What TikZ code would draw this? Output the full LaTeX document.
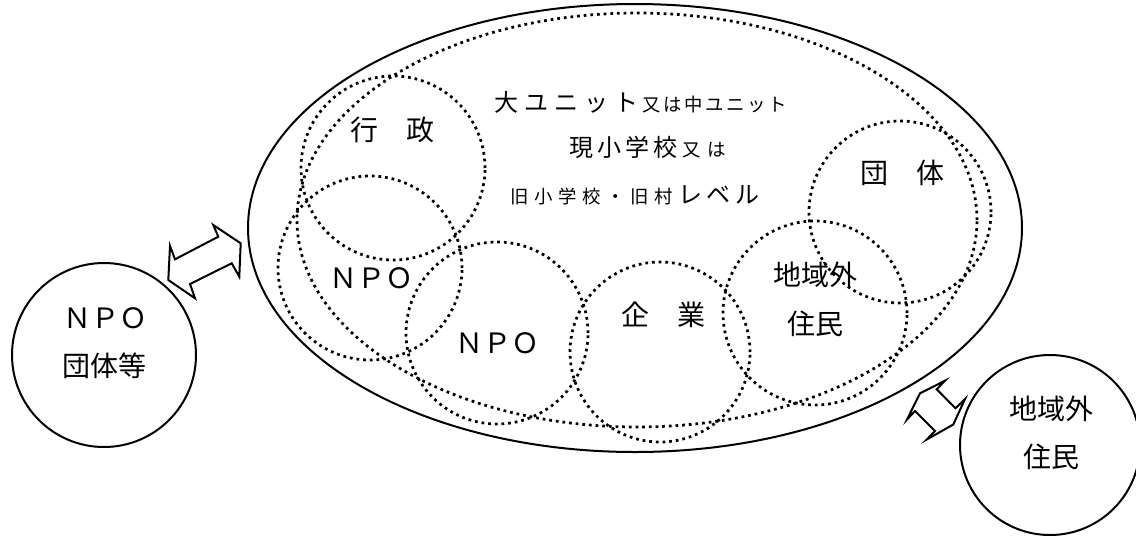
\documentclass[tikz,border=0pt]{standalone}
\usepackage{fontspec}
\newfontfamily\jp{Noto Sans CJK JP}
\usetikzlibrary{shapes.geometric}
\newdimen\pxu \pxu=0.75pt
\newdimen\pitchw
\newcommand\pitched[2]{\pitchw=#1\relax\pitchloop#2\relax}
\def\pitchloop#1{\ifx#1\relax\else\makebox[\pitchw][c]{#1}\expandafter\pitchloop\fi}
\newcommand\Lg[2]{{\jp\fontsize{18}{20}\selectfont\pitched{#1}{#2}}}
\newcommand\Sm[2]{{\jp\fontsize{13.8}{15}\selectfont\pitched{#1}{#2}}}
\begin{document}
\begin{tikzpicture}[x=0.75pt,y=-0.75pt,
  solidline/.style={draw=black, line width=1.5pt},
  dotline/.style={draw=black, line width=2.05pt, dash pattern=on 2.05pt off 2.95pt},
  dotcirc/.style={dotline, circle, inner sep=0pt},
  lbl/.style={inner sep=0pt, font=\jp\fontsize{21}{24}\selectfont},
  toptext/.style={inner sep=0pt, anchor=base west},
  blockarrow/.style={draw=black, fill=white, line width=1.5pt, line join=miter}
]
\useasboundingbox (0,0) rectangle (1136,537);
\clip (0,0) rectangle (1136,537);

% outer solid ellipse and dotted ellipse
\node[solidline, ellipse, inner sep=0pt, minimum width=774\pxu, minimum height=448\pxu] (outer) at (635,228) {};
\node[dotline, ellipse, inner sep=0pt, minimum width=680\pxu, minimum height=414\pxu] (inner) at (637,220) {};

% dotted circles
\node[dotcirc, minimum size=184\pxu] (cgyosei) at (393,168) {};
\node[dotcirc, minimum size=184\pxu] (cnpoa) at (370,268) {};
\node[dotcirc, minimum size=182\pxu] (cnpob) at (497,333) {};
\node[dotcirc, minimum size=180\pxu] (ckigyo) at (660,352) {};
\node[dotcirc, minimum size=184\pxu] (cchiiki) at (815,313) {};
\node[dotcirc, minimum size=182\pxu] (cdantai) at (900,212) {};

% texts inside
\node[toptext] (t1) at (491,111) {\Lg{22.5pt}{大ユニット}\Sm{15.75pt}{又は中ユニット}};
\node[toptext] (t2) at (567,156) {\Lg{21pt}{現小学校}\Sm{18.75pt}{又は}};
\node[toptext] (t3) at (507,203) {\Sm{18.1pt}{旧小学校・旧村}\Lg{21.4pt}{レベル}};

\node[lbl] (lgyosei) at (392.5,130) {行　政};
\node[lbl] (lnpoa) at (371,278) {ＮＰＯ};
\node[lbl] (lnpob) at (497.5,343) {ＮＰＯ};
\node[lbl] (lkigyo) at (663.5,315) {企　業};
\node[lbl] (lchiikia) at (815,275) {地域外};
\node[lbl] (lchiikib) at (815,324) {住民};
\node[lbl] (ldantai) at (902.5,173) {団　体};

% outside circles
\node[solidline, circle, inner sep=0pt, minimum size=184\pxu] (npoc) at (104,355) {};
\node[lbl] (lnpoc) at (105,318) {ＮＰＯ};
\node[lbl] (ldantaic) at (104.5,366) {団体等};

\node[solidline, circle, inner sep=0pt, minimum size=180\pxu] (resc) at (1050,445) {};
\node[lbl] (lresa) at (1051.5,408.5) {地域外};
\node[lbl] (lresb) at (1051.5,456.5) {住民};

% block arrows
\draw[blockarrow] (240.7,243.3) -- (239.3,276.7) -- (231.7,263.3) -- (190,284) -- (195,298.3)
  -- (168.3,280) -- (170,246) -- (175,259.3) -- (218.3,236.7) -- (213.3,225) -- cycle;
\draw[blockarrow] (920,393.3) -- (945,380.7) -- (936.7,389.3) -- (955.5,408.3) -- (965,399)
  -- (953.3,424.5) -- (926.7,439.5) -- (935,431) -- (915,411) -- (907,419.5) -- cycle;
\end{tikzpicture}
\end{document}
